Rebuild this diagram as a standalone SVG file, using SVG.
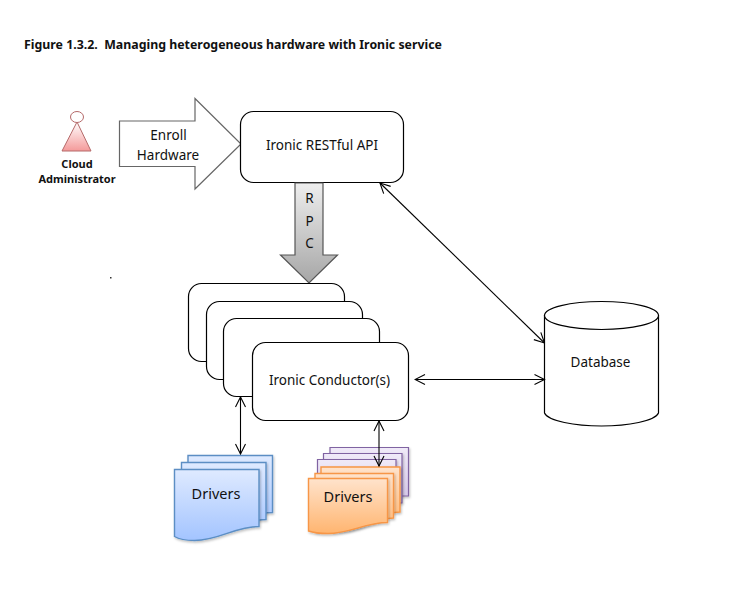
<svg xmlns="http://www.w3.org/2000/svg" width="751" height="594" viewBox="0 0 751 594">
<style>
text{font-family:"Noto Sans","Open Sans","Liberation Sans",sans-serif;fill:#111;text-anchor:middle;font-size:13.5px}
.b{font-weight:700;font-size:11px}
.d{font-size:14.5px}
.box{fill:#fff;stroke:#000;stroke-width:1.2}
.c{fill:none;stroke:#000;stroke-width:1.1;marker-start:url(#a);marker-end:url(#a)}
.blue{fill:url(#gb);stroke:#5b8ec4;stroke-width:1.4}
.pur{fill:url(#gp);stroke:#8064a2;stroke-width:1.2}
.or{fill:url(#go);stroke:#f79646;stroke-width:1.4}
.sd{filter:url(#s)}
</style>
<defs>
<filter id="s" x="-10%" y="-10%" width="125%" height="125%"><feDropShadow dx="1" dy="1.500" stdDeviation="1.200" flood-color="#000" flood-opacity="0.250"/></filter>
<marker id="a" viewBox="-11 -6 12 12" markerUnits="userSpaceOnUse" markerWidth="12" markerHeight="12" orient="auto-start-reverse"><path d="M-10-5 0 0-10 5" fill="none" stroke="#000" stroke-width="1.1"/></marker>
<linearGradient id="gr" x1="0" y1="0" x2="0" y2="1"><stop offset="0" stop-color="#fff"/><stop offset="1" stop-color="#f49a9a"/></linearGradient>
<linearGradient id="gg" x1="0" y1="0" x2="0" y2="1"><stop offset="0" stop-color="#eee"/><stop offset="1" stop-color="#a6a6a6"/></linearGradient>
<linearGradient id="gb" x1="0" y1="0" x2="0" y2="1"><stop offset="0" stop-color="#dfeaff"/><stop offset="1" stop-color="#a3c4ff"/></linearGradient>
<linearGradient id="gp" x1="0" y1="0" x2="0" y2="1"><stop offset="0" stop-color="#f0eaf8"/><stop offset="1" stop-color="#d5c8e8"/></linearGradient>
<linearGradient id="go" x1="0" y1="0" x2="0" y2="1"><stop offset="0" stop-color="#ffe3cc"/><stop offset="1" stop-color="#ffb570"/></linearGradient>
<path id="sh" d="M0 0H84.500V57C60 57 45 71 20 71C12 71 5 70 0 67Z"/>
</defs>
<rect width="751" height="594" fill="#fff"/>
<text x="233" y="49" class="b" textLength="418" lengthAdjust="spacingAndGlyphs" style="font-size:12.500px">Figure 1.3.2.&#160; Managing heterogeneous hardware with Ironic service</text>
<rect x="110" y="277" width="1.500" height="1.500" fill="#333"/>
<g id="actor">
<path d="M77 122 91 151H62Z" fill="url(#gr)" stroke="#b56a6a"/>
<ellipse cx="77" cy="117" rx="6.500" ry="5.500" fill="#fff" stroke="#b56a6a"/>
<text x="77" y="168" class="b">Cloud</text><text x="77" y="183" class="b">Administrator</text>
</g>
<g id="enroll">
<path d="M119.500 121H195V98.500L241 144 195 189V166.500H119.500Z" fill="#fff" stroke="#666" stroke-width="1.200"/>
<text x="168.500" y="140">Enroll</text><text x="168" y="160">Hardware</text>
</g>
<g id="api"><rect class="box" x="240.500" y="111.500" width="163" height="71" rx="13"/><text x="322" y="150">Ironic RESTful API</text></g>
<g id="rpc">
<path d="M295 183H323V255H337.500L309 283 280.500 255H295Z" fill="url(#gg)" stroke="#555" stroke-width="1.200"/>
<text x="309.500" y="203">R</text><text x="309.500" y="226">P</text><text x="309.500" y="248">C</text>
</g>
<g id="conductors">
<rect class="box" x="188.500" y="283.500" width="156" height="78" rx="13"/>
<rect class="box" x="206.500" y="301.500" width="156" height="78" rx="13"/>
<rect class="box" x="223.500" y="318.500" width="156" height="78" rx="13"/>
<rect class="box" x="252.500" y="342.500" width="156" height="78" rx="13"/>
<text x="329.500" y="385">Ironic Conductor(s)</text>
</g>
<g id="database">
<path d="M544.500 315.500V413C548 421 575 426 601.500 426S655 421 658.500 413V315.500Z" fill="#fff" stroke="#000" stroke-width="1.200"/>
<ellipse cx="601.500" cy="315.500" rx="57" ry="14" fill="#fff" stroke="#000" stroke-width="1.200"/>
<text x="600.500" y="367">Database</text>
</g>
<g id="drivers-blue">
<use href="#sh" x="188" y="455.500" class="blue sd"/>
<use href="#sh" x="181.500" y="462.500" class="blue sd"/>
<use href="#sh" x="174.500" y="469.500" class="blue sd"/>
<text x="216" y="499" class="d">Drivers</text>
</g>
<g id="drivers-orange">
<path class="pur sd" d="M330 447.500H408.500V496H330Z"/>
<path class="pur sd" d="M323.500 453.500H402V503H323.500Z"/>
<path class="pur sd" d="M317.500 459.500H396V510H317.500Z"/>
<path class="or sd" d="M321 467H400V512C380 512 365 525 345 525H321Z"/>
<path class="or sd" d="M315 473.500H393.500V518C375 518 360 531 340 531H315Z"/>
<path class="or sd" d="M308.500 478.500H387.500V522.500C365 522.500 350 533.500 328 533.500C320 533.500 314 533 308.500 531Z"/>
<text x="348" y="502" class="d">Drivers</text>
</g>
<g id="connectors">
<path class="c" d="M380 183 544.500 343"/>
<path class="c" d="M415 379.500H544.500"/>
<path class="c" d="M240.500 397V454"/>
<path class="c" d="M379 421V466"/>
</g>
</svg>
